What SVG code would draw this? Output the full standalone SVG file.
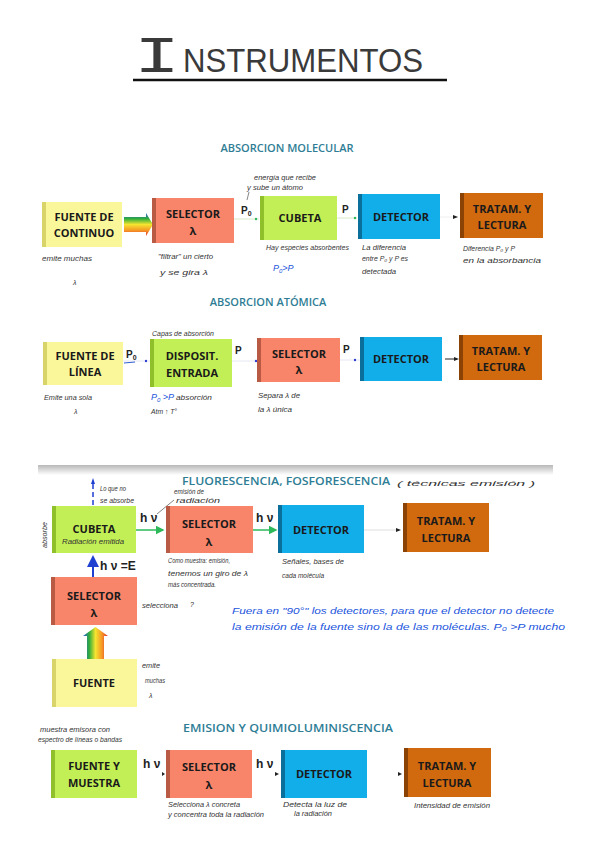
<svg xmlns="http://www.w3.org/2000/svg" width="600" height="848" viewBox="0 0 600 848">
<defs>
<style>
.bx{stroke:none}
.y{fill:#FAF79A}.yd{fill:#D9D46A}
.g{fill:#C2EF55}.gd{fill:#8FBF2A}
.s{fill:#F8856A}.sd{fill:#B95A45}
.b{fill:#12AEEA}.bd{fill:#0A6F9A}
.o{fill:#D1690F}.od{fill:#8A4205}
.t{font-family:"Open Sans","Liberation Sans",sans-serif;font-weight:700;font-size:11px;fill:#1a1a1a;text-anchor:middle}
.h{font-family:"Open Sans","Liberation Sans",sans-serif;font-weight:600;font-size:11px;fill:#2E7D95;text-anchor:middle}
.n{font-family:"Liberation Sans",sans-serif;font-style:italic;font-size:7px;fill:#333}
.nb{font-family:"Liberation Sans",sans-serif;font-style:italic;font-size:9px;fill:#2255DD}
.p{font-family:"Liberation Sans",sans-serif;font-weight:700;font-size:10px;fill:#222}
.hv{font-family:"Liberation Sans",sans-serif;font-weight:700;font-size:12px;fill:#222}
</style>
<linearGradient id="rbv" x1="0" y1="0" x2="0" y2="1">
<stop offset="0" stop-color="#2B59D6"/><stop offset="0.25" stop-color="#2FAE3A"/><stop offset="0.5" stop-color="#F5E430"/><stop offset="0.75" stop-color="#F59A25"/><stop offset="1" stop-color="#E5302A"/>
</linearGradient>
<linearGradient id="rbh" x1="0" y1="0" x2="1" y2="0">
<stop offset="0" stop-color="#2B59D6"/><stop offset="0.25" stop-color="#2FAE3A"/><stop offset="0.5" stop-color="#F5E430"/><stop offset="0.75" stop-color="#F59A25"/><stop offset="1" stop-color="#E5302A"/>
</linearGradient>
<linearGradient id="sh" x1="0" y1="0" x2="0" y2="1">
<stop offset="0" stop-color="#B8B8B8"/><stop offset="1" stop-color="#FFFFFF"/>
</linearGradient>
<marker id="ag" markerWidth="6" markerHeight="6" refX="5" refY="3" orient="auto"><path d="M0,0 L6,3 L0,6 z" fill="#2DB85A"/></marker>
<marker id="ab" markerWidth="6" markerHeight="6" refX="5" refY="3" orient="auto"><path d="M0,0 L6,3 L0,6 z" fill="#1F3FD0"/></marker>
</defs>
<rect width="600" height="848" fill="#fff"/>

<!-- Title -->
<g id="title">
<text x="134" y="72" font-family="Liberation Mono,monospace" font-size="52" fill="#3a3a3a" textLength="46" lengthAdjust="spacingAndGlyphs">I</text>
<text x="183" y="72" font-family="Liberation Sans,sans-serif" font-size="33" fill="#3a3a3a" textLength="240" lengthAdjust="spacingAndGlyphs">NSTRUMENTOS</text>
<line x1="133" y1="80" x2="447" y2="80" stroke="#111" stroke-width="2.5"/>
</g>

<!-- section headings -->
<text class="h" x="287" y="152">ABSORCION MOLECULAR</text>
<text class="h" x="268" y="306">ABSORCION ATÓMICA</text>
<rect x="38" y="465" width="515" height="10" fill="url(#sh)"/>
<text class="h" x="286" y="485" textLength="208" lengthAdjust="spacingAndGlyphs">FLUORESCENCIA, FOSFORESCENCIA</text>
<text class="n" x="397" y="486" font-size="11" textLength="138" lengthAdjust="spacingAndGlyphs">( técnicas emisión )</text>
<text class="h" x="288" y="732" textLength="210" lengthAdjust="spacingAndGlyphs">EMISION Y QUIMIOLUMINISCENCIA</text>

<!-- connectors -->
<g id="connectors">
<path d="M124,217 H146 V213 L153,224.5 L146,236 V232 H124 z" fill="url(#rbv)"/>
<line x1="234" y1="219" x2="259" y2="219" stroke="#d8e8c8" stroke-width="1"/>
<circle cx="256" cy="219" r="1.2" fill="#2DB85A"/>
<line x1="337" y1="218" x2="357" y2="218" stroke="#d8e8c8" stroke-width="1"/>
<circle cx="355" cy="218" r="1.2" fill="#2DB85A"/>
<line x1="440" y1="217" x2="458" y2="217" stroke="#eee" stroke-width="1"/>
<path d="M453,215 L458,217 L453,219 z" fill="#222"/>
<text class="p" x="241" y="214">P<tspan font-size="7" dy="2">0</tspan></text>
<text class="p" x="342" y="213">P</text>
<line x1="123" y1="361" x2="150" y2="361" stroke="#e4e8f4" stroke-width="1"/>
<line x1="124" y1="363" x2="135" y2="362" stroke="#2F5FD0" stroke-width="1"/>
<circle cx="146" cy="361" r="1.2" fill="#2F3FD0"/>
<line x1="232" y1="361" x2="257" y2="361" stroke="#e4e8f4" stroke-width="1"/>
<circle cx="256" cy="361" r="1.2" fill="#2F3FD0"/>
<line x1="340" y1="360" x2="360" y2="360" stroke="#e4e8f4" stroke-width="1"/>
<circle cx="355" cy="360" r="1.2" fill="#2F3FD0"/>
<line x1="445" y1="359" x2="457" y2="359" stroke="#222" stroke-width="1"/>
<path d="M454,357 L459,359 L454,361 z" fill="#222"/>
<text class="p" x="126" y="358">P<tspan font-size="7" dy="2">0</tspan></text>
<text class="p" x="235" y="354">P</text>
<text class="p" x="343" y="353">P</text>
<line x1="136" y1="530" x2="163" y2="530" stroke="#2DB85A" stroke-width="1.5" marker-end="url(#ag)"/>
<line x1="253" y1="530" x2="276" y2="530" stroke="#2DB85A" stroke-width="1.5" marker-end="url(#ag)"/>
<line x1="364" y1="530" x2="400" y2="530" stroke="#ddd" stroke-width="1"/>
<path d="M396,528 L401,530 L396,532 z" fill="#222"/>
<text class="hv" x="140" y="522">h ν</text>
<text class="hv" x="256" y="522">h ν</text>
<line x1="93" y1="505" x2="93" y2="482" stroke="#1F3FD0" stroke-width="1.5" stroke-dasharray="5,3"/>
<path d="M91,484 L93,478 L95,484 z" fill="#1F3FD0"/>
<line x1="93" y1="577" x2="93" y2="557" stroke="#1F3FD0" stroke-width="2" marker-end="url(#ab)"/>
<text class="hv" x="100" y="570">h ν =E</text>
<path d="M87,659 V636 H83 L95.5,627 L108,636 H104 V659 z" fill="url(#rbh)"/>
<path d="M157,514 L174,500" stroke="#333" stroke-width="0.6" fill="none"/>
<text class="hv" x="143" y="768">h ν</text>
<path d="M162,772 L165,774 L162,776 z" fill="#222"/>
<text class="hv" x="256" y="768">h ν</text>
<path d="M275,772 L279,774 L275,776 z" fill="#222"/>
<path d="M398,772 L402,774 L398,776 z" fill="#222"/>
</g>

<!-- ROW 1 nodes -->
<g id="fuente-continuo"><rect class="y" x="42" y="202" width="80" height="45"/><rect class="yd" x="42" y="202" width="4" height="45"/><text class="t" x="84" y="221">FUENTE DE</text><text class="t" x="84" y="237">CONTINUO</text></g>
<g id="selector1"><rect class="s" x="152" y="198" width="82" height="45"/><rect class="sd" x="152" y="198" width="4" height="45"/><text class="t" x="193" y="218">SELECTOR</text><text class="t" x="193" y="235">λ</text></g>
<g id="cubeta1"><rect class="g" x="260" y="196" width="77" height="44"/><rect class="gd" x="260" y="196" width="4" height="44"/><text class="t" x="300" y="222">CUBETA</text></g>
<g id="detector1"><rect class="b" x="358" y="194" width="82" height="45"/><rect class="bd" x="358" y="194" width="4" height="45"/><text class="t" x="401" y="221">DETECTOR</text></g>
<g id="tratam1"><rect class="o" x="460" y="193" width="83" height="45"/><rect class="od" x="460" y="193" width="4" height="45"/><text class="t" x="502" y="213">TRATAM. Y</text><text class="t" x="502" y="229">LECTURA</text></g>

<g id="notes1">
<text class="n" x="42" y="261" font-size="8" textLength="50" lengthAdjust="spacingAndGlyphs">emite muchas</text>
<text class="n" x="73" y="285" font-size="10">λ</text>
<text class="n" x="158" y="259" textLength="55" lengthAdjust="spacingAndGlyphs">"filtrar" un cierto</text>
<text class="n" x="160" y="275" textLength="48" lengthAdjust="spacingAndGlyphs">y se gira λ</text>
<text class="n" x="254" y="180" textLength="62" lengthAdjust="spacingAndGlyphs">energía que recibe</text>
<text class="n" x="247" y="190" textLength="56" lengthAdjust="spacingAndGlyphs">y sube un átomo</text>
<line x1="247" y1="200" x2="249" y2="192" stroke="#333" stroke-width="0.6"/>
<text class="n" x="266" y="250" textLength="83" lengthAdjust="spacingAndGlyphs">Hay especies absorbentes</text>
<text class="nb" x="273" y="271">P<tspan font-size="6" dy="2">0</tspan><tspan dy="-2">&gt;P</tspan></text>
<text class="n" x="362" y="250" textLength="44" lengthAdjust="spacingAndGlyphs">La diferencia</text>
<text class="n" x="362" y="261" textLength="46" lengthAdjust="spacingAndGlyphs">entre P₀ y P es</text>
<text class="n" x="362" y="274" textLength="34" lengthAdjust="spacingAndGlyphs">detectada</text>
<text class="n" x="463" y="251" textLength="52" lengthAdjust="spacingAndGlyphs">Diferencia P₀ y P</text>
<text class="n" x="463" y="263" textLength="78" lengthAdjust="spacingAndGlyphs">en la absorbancia</text>
</g>

<!-- ROW 2 nodes -->
<g id="fuente-linea"><rect class="y" x="43" y="342" width="80" height="43"/><rect class="yd" x="43" y="342" width="4" height="43"/><text class="t" x="85" y="360">FUENTE DE</text><text class="t" x="85" y="376">LÍNEA</text></g>
<g id="disposit"><rect class="g" x="150" y="339" width="82" height="48"/><rect class="gd" x="150" y="339" width="4" height="48"/><text class="t" x="192" y="360">DISPOSIT.</text><text class="t" x="192" y="377">ENTRADA</text></g>
<g id="selector2"><rect class="s" x="257" y="338" width="83" height="44"/><rect class="sd" x="257" y="338" width="4" height="44"/><text class="t" x="299" y="358">SELECTOR</text><text class="t" x="299" y="374">λ</text></g>
<g id="detector2"><rect class="b" x="360" y="337" width="82" height="44"/><rect class="bd" x="360" y="337" width="4" height="44"/><text class="t" x="401" y="363">DETECTOR</text></g>
<g id="tratam2"><rect class="o" x="459" y="335" width="83" height="45"/><rect class="od" x="459" y="335" width="4" height="45"/><text class="t" x="501" y="355">TRATAM. Y</text><text class="t" x="501" y="371">LECTURA</text></g>

<g id="notes2">
<text class="n" x="152" y="336" textLength="62" lengthAdjust="spacingAndGlyphs">Capas de absorción</text>
<text class="n" x="44" y="400" textLength="48" lengthAdjust="spacingAndGlyphs">Emite una sola</text>
<text class="n" x="74" y="414" font-size="9">λ</text>
<text class="nb" x="151" y="400">P<tspan font-size="6" dy="2">0</tspan><tspan dy="-2"> &gt;P</tspan></text>
<text class="n" x="176" y="400" textLength="36" lengthAdjust="spacingAndGlyphs">absorción</text>
<text class="n" x="151" y="414" textLength="26" lengthAdjust="spacingAndGlyphs">Atm ↑ T°</text>
<text class="n" x="258" y="398" textLength="42" lengthAdjust="spacingAndGlyphs">Separa λ de</text>
<text class="n" x="258" y="412" textLength="34" lengthAdjust="spacingAndGlyphs">la λ única</text>
</g>

<!-- ROW 3 nodes -->
<g id="cubeta3"><rect class="g" x="52" y="506" width="84" height="47"/><rect class="gd" x="52" y="506" width="4" height="47"/><text class="t" x="94" y="533">CUBETA</text><text class="n" x="62" y="544" textLength="62" lengthAdjust="spacingAndGlyphs">Radiación emitida</text></g>
<g id="selector3"><rect class="s" x="166" y="506" width="87" height="47"/><rect class="sd" x="166" y="506" width="4" height="47"/><text class="t" x="209" y="528">SELECTOR</text><text class="t" x="209" y="546">λ</text></g>
<g id="detector3"><rect class="b" x="278" y="505" width="86" height="48"/><rect class="bd" x="278" y="505" width="4" height="48"/><text class="t" x="321" y="534">DETECTOR</text></g>
<g id="tratam3"><rect class="o" x="403" y="503" width="86" height="49"/><rect class="od" x="403" y="503" width="4" height="49"/><text class="t" x="446" y="525">TRATAM. Y</text><text class="t" x="446" y="542">LECTURA</text></g>
<g id="selector3b"><rect class="s" x="51" y="577" width="86" height="48"/><rect class="sd" x="51" y="577" width="4" height="48"/><text class="t" x="94" y="600">SELECTOR</text><text class="t" x="94" y="617">λ</text></g>
<g id="fuente3"><rect class="y" x="52" y="659" width="85" height="48"/><rect class="yd" x="52" y="659" width="4" height="48"/><text class="t" x="94" y="687">FUENTE</text></g>

<g id="notes3">
<text class="n" x="100" y="491" textLength="26" lengthAdjust="spacingAndGlyphs">Lo que no</text>
<text class="n" x="100" y="503" textLength="34" lengthAdjust="spacingAndGlyphs">se absorbe</text>
<text class="n" x="47" y="548" transform="rotate(-90 47 548)" textLength="26" lengthAdjust="spacingAndGlyphs">absorbe</text>
<text class="n" x="174" y="494" textLength="30" lengthAdjust="spacingAndGlyphs">emisión de</text>
<text class="n" x="176" y="503" textLength="44" lengthAdjust="spacingAndGlyphs">radiación</text>
<text class="n" x="168" y="563" textLength="62" lengthAdjust="spacingAndGlyphs">Como muestra: emisión,</text>
<text class="n" x="168" y="576" textLength="80" lengthAdjust="spacingAndGlyphs">tenemos un giro de λ</text>
<text class="n" x="168" y="587" textLength="48" lengthAdjust="spacingAndGlyphs">más concentrada.</text>
<text class="n" x="282" y="564" textLength="62" lengthAdjust="spacingAndGlyphs">Señales, bases de</text>
<text class="n" x="282" y="578" textLength="42" lengthAdjust="spacingAndGlyphs">cada molécula</text>
<text class="n" x="142" y="608" textLength="36" lengthAdjust="spacingAndGlyphs">selecciona</text>
<text class="n" x="190" y="607" font-size="9">?</text>
<text class="n" x="142" y="668" textLength="18" lengthAdjust="spacingAndGlyphs">emite</text>
<text class="n" x="145" y="683" textLength="20" lengthAdjust="spacingAndGlyphs">muchas</text>
<text class="n" x="149" y="698" font-size="9">λ</text>
<text class="nb" x="232" y="614" textLength="322" lengthAdjust="spacingAndGlyphs">Fuera en "90°" los detectores, para que el detector no detecte</text>
<text class="nb" x="232" y="630" textLength="333" lengthAdjust="spacingAndGlyphs">la emisión de la fuente sino la de las moléculas. P₀ &gt;P mucho</text>
</g>

<!-- ROW 4 nodes -->
<g id="fuente-muestra"><rect class="g" x="51" y="750" width="86" height="48"/><rect class="gd" x="51" y="750" width="4" height="48"/><text class="t" x="94" y="770">FUENTE Y</text><text class="t" x="94" y="787">MUESTRA</text></g>
<g id="selector4"><rect class="s" x="166" y="750" width="86" height="48"/><rect class="sd" x="166" y="750" width="4" height="48"/><text class="t" x="209" y="771">SELECTOR</text><text class="t" x="209" y="789">λ</text></g>
<g id="detector4"><rect class="b" x="281" y="750" width="86" height="48"/><rect class="bd" x="281" y="750" width="4" height="48"/><text class="t" x="324" y="778">DETECTOR</text></g>
<g id="tratam4"><rect class="o" x="404" y="748" width="87" height="49"/><rect class="od" x="404" y="748" width="4" height="49"/><text class="t" x="447" y="770">TRATAM. Y</text><text class="t" x="447" y="787">LECTURA</text></g>

<g id="notes4">
<text class="n" x="40" y="732" font-size="6" textLength="70" lengthAdjust="spacingAndGlyphs">muestra emisora con</text>
<text class="n" x="38" y="742" font-size="6" textLength="84" lengthAdjust="spacingAndGlyphs">espectro de líneas o bandas</text>
<text class="n" x="168" y="807" font-size="6" textLength="72" lengthAdjust="spacingAndGlyphs">Selecciona λ concreta</text>
<text class="n" x="168" y="817" font-size="6" textLength="96" lengthAdjust="spacingAndGlyphs">y concentra toda la radiación</text>
<text class="n" x="283" y="807" font-size="6" textLength="64" lengthAdjust="spacingAndGlyphs">Detecta la luz de</text>
<text class="n" x="294" y="816" font-size="6" textLength="38" lengthAdjust="spacingAndGlyphs">la radiación</text>
<text class="n" x="414" y="808" font-size="6" textLength="76" lengthAdjust="spacingAndGlyphs">Intensidad de emisión</text>
</g>
</svg>
